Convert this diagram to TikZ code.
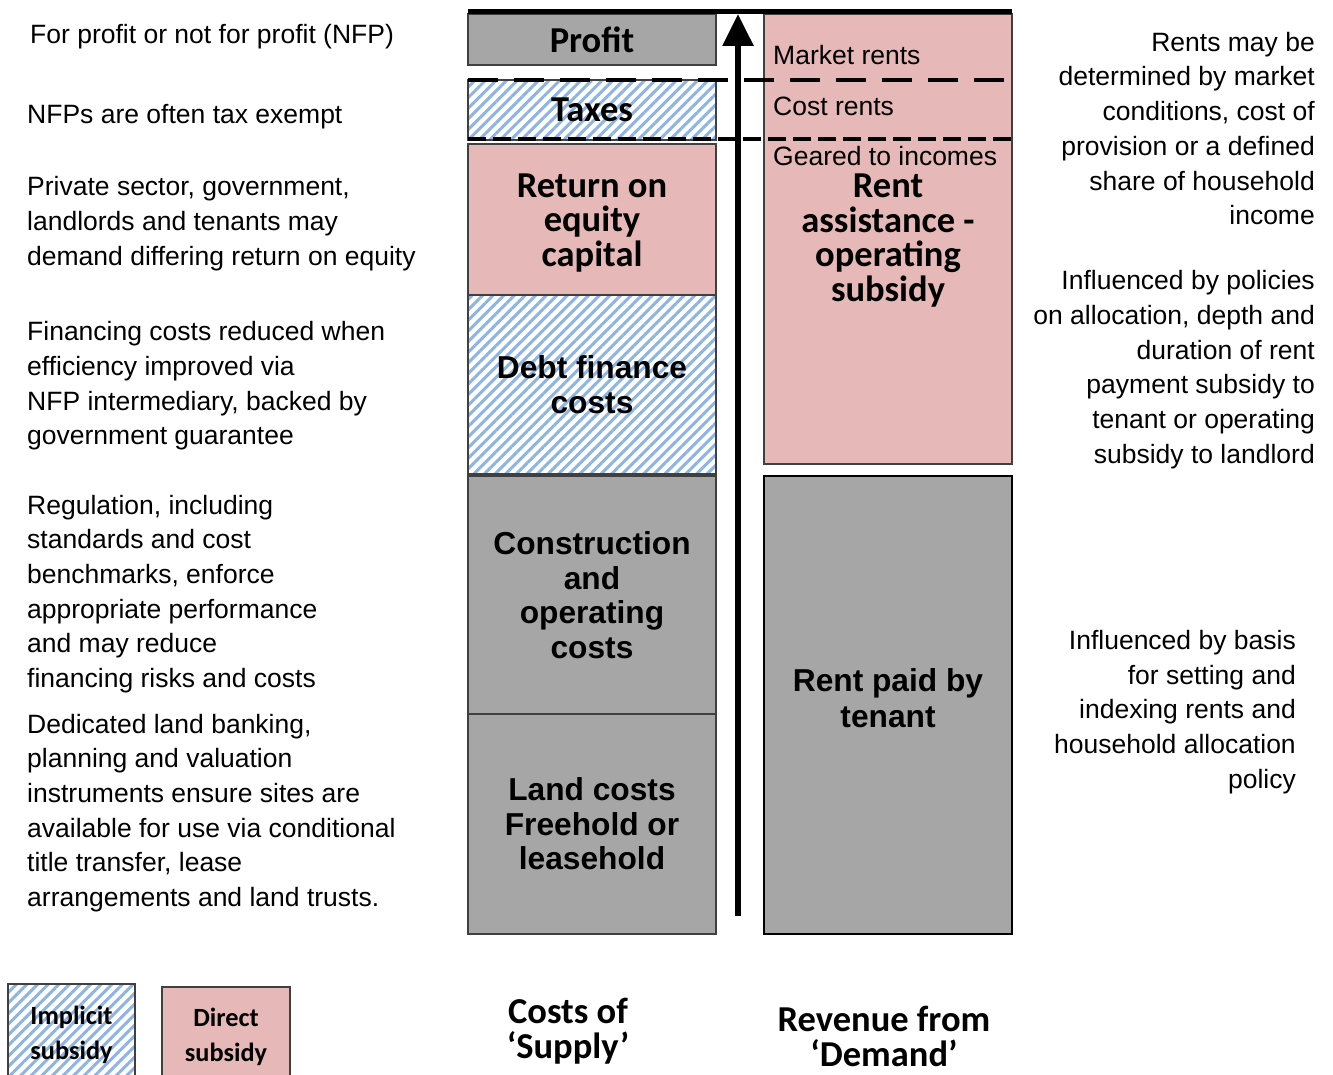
\documentclass[tikz,border=0pt]{standalone}
\usepackage{fontspec}
\setmainfont{Liberation Sans}
\newfontfamily\calib{Carlito}
\usetikzlibrary{arrows.meta,patterns.meta}

\definecolor{boxgray}{HTML}{A6A6A6}
\definecolor{rosefill}{HTML}{E6B8B7}
\definecolor{hatchblue}{HTML}{8DB4E2}
\definecolor{edgegray}{HTML}{404040}

\tikzset{
  note/.style={font=\fontsize{26.5}{34.7}\selectfont, inner sep=0pt},
  notel/.style={note, align=left, anchor=west},
  noter/.style={note, align=right, anchor=east},
  arialbold/.style={font=\fontsize{31.7}{34.5}\selectfont\bfseries, align=center},
  calbold/.style={font=\calib\bfseries\fontsize{36.5}{34.5}\selectfont, align=center},
  block/.style={draw=edgegray, line width=1.2pt, rectangle, inner sep=0pt},
  graybox/.style={block, fill=boxgray},
  rosebox/.style={block, fill=rosefill},
  hatchbox/.style={block, preaction={fill=white},
    pattern={Lines[angle=45,distance=7.5pt,line width=3pt]}, pattern color=hatchblue},
  level/.style={line width=4pt},
}

\begin{document}
\begin{tikzpicture}[x=1pt,y=-1pt]
\useasboundingbox (0,0) rectangle (1333,1075);

% ---- cost column ('Supply') ----
\node[graybox, calbold, minimum width=248, minimum height=51] (profit) at (592,39.5) {Profit};
\node[hatchbox, calbold, minimum width=248, minimum height=60] (taxes) at (592,110) {Taxes};
\node[rosebox, minimum width=248, minimum height=151] (equity) at (592,219.5) {};
\node[calbold, inner sep=0pt] (equitytxt) at (592,223) {Return on\\equity\\capital};
\node[hatchbox, arialbold, minimum width=248, minimum height=179] (debt) at (592,384.5) {Debt finance\\costs};
\node[graybox, arialbold, minimum width=248, minimum height=238] (build) at (592,595) {Construction\\and\\operating\\costs};
\node[graybox, arialbold, minimum width=248, minimum height=220] (land) at (592,824) {Land costs\\Freehold or\\leasehold};

% ---- revenue column ('Demand') ----
\node[rosebox, minimum width=248, minimum height=450] (assist) at (888,239) {};
\node[calbold] (assisttxt) at (888,240.5) {Rent\\assistance -\\operating\\subsidy};
\node[block, draw=black, line width=2pt, fill=boxgray, minimum width=248, minimum height=458] (tenant) at (888,705) {};
\node[font=\fontsize{31.7}{36}\selectfont\bfseries, align=center, inner sep=0pt] (tenanttxt) at (888,698) {Rent paid by\\tenant};

\node[note, anchor=west] (market) at (773,55) {Market rents};
\node[note, anchor=west] (costrent) at (773,106) {Cost rents};
\node[note, anchor=west] (geared) at (773,156) {Geared to incomes};

% ---- rent levels ----
\coordinate (lvlAL) at (468,80);  \coordinate (lvlAR) at (1012,80);
\coordinate (lvlBL) at (468,139); \coordinate (lvlBR) at (1012,139);
\draw[level, dash pattern=on 30pt off 16pt] (lvlAL) -- (lvlAR);
\draw[level, dash pattern=on 18pt off 7pt] (lvlBL) -- (lvlBR);

% ---- rising arrow and top line ----
\coordinate (arrowfoot) at (738,916);
\coordinate (arrowtip) at (738,14);
\draw[line width=6pt, -{Triangle[width=30pt,length=32pt]}] (arrowfoot) -- (arrowtip);
\coordinate (topL) at (468,12);
\coordinate (topR) at (1012,12);
\draw[line width=5pt] (topL) -- (topR);

% ---- left notes ----
\node[notel] (n1) at (30,37) {For profit or not for profit (NFP)};
\node[notel] (n2) at (27,117) {NFPs are often tax exempt};
\node[notel] (n3) at (27,223.5) {Private sector, government,\\landlords and tenants may\\demand differing return on equity};
\node[notel] (n4) at (27,386) {Financing costs reduced when\\efficiency improved via\\NFP intermediary, backed by\\government guarantee};
\node[notel] (n5) at (27,594) {Regulation, including\\standards and cost\\benchmarks, enforce\\appropriate performance\\and may reduce\\financing risks and costs};
\node[notel] (n6) at (27,813) {Dedicated land banking,\\planning and valuation\\instruments ensure sites are\\available for use via conditional\\title transfer, lease\\arrangements and land trusts.};

% ---- right notes ----
\node[noter] (r1) at (1315,128.5) {Rents may be\\determined by market\\conditions, cost of\\provision or a defined\\share of household\\income};
\node[noter] (r2) at (1315,369.5) {Influenced by policies\\on allocation, depth and\\duration of rent\\payment subsidy to\\tenant or operating\\subsidy to landlord};
\node[noter] (r3) at (1296,712) {Influenced by basis\\for setting and\\indexing rents and\\household allocation\\policy};

% ---- legend ----
\node[hatchbox, font=\calib\bfseries\fontsize{26.3}{35}\selectfont, align=center,
      minimum width=127, minimum height=102] (legimp) at (71.5,1035) {Implicit\\subsidy};
\node[rosebox, font=\calib\bfseries\fontsize{26.3}{35}\selectfont, align=center,
      minimum width=128, minimum height=100] (legdir) at (226,1037) {Direct\\subsidy};

% ---- column titles ----
\node[calbold, font=\calib\bfseries\fontsize{36.5}{35}\selectfont, inner sep=0pt] (supply) at (568,1031.5) {Costs of\\‘Supply’};
\node[calbold, font=\calib\bfseries\fontsize{36.5}{35}\selectfont, inner sep=0pt] (demand) at (884,1036) {Revenue from\\‘Demand’};
\end{tikzpicture}
\end{document}
